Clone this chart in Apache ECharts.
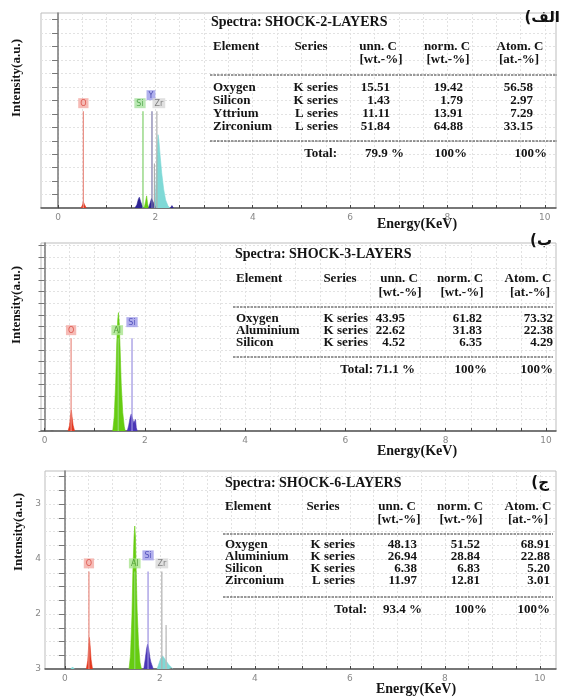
<!DOCTYPE html>
<html><head><meta charset="utf-8">
<script src="https://cdn.jsdelivr.net/npm/echarts@6/dist/echarts.min.js"></script>
<style>html,body{margin:0;padding:0;background:#fff}#c{width:561px;height:697px}</style>
</head><body><div id="c"></div>
<script>
// ---------- tick values / labels ----------
const xTickValues = [0,0.5,1,1.5,2,2.5,3,3.5,4,4.5,5,5.5,6,6.5,7,7.5,8,8.5,9,9.5,10];
const xLabelValues = [0,2,4,6,8,10];
const y1TickValues = [0,1,2,3,4,5,6,7,8,9,10,11,12,13,14];
const y2TickValues = [0,1,2,3,4,5,6,7,8,9,10,11,12,13,14,15,16];
const y3TickValues = [0,1,2,3,4,5,6,7,8,9,10,11,12,13,14];
const y3LabelValues = [0,4,8,12];
const y3LabelTexts = ['3','2','4','3'];

// ---------- panel 1 spectrum (keV, intensity) ----------
const p1_O  = [[0.47,0],[0.50,0.2],[0.52,0.45],[0.545,0.25],[0.58,0]];
const p1_navyA = [[1.58,0],[1.62,0.25],[1.65,0.65],[1.67,0.8],[1.70,0.45],[1.73,0.15],[1.76,0]];
const p1_Si = [[1.77,0],[1.80,0.5],[1.82,0.9],[1.84,0.3],[1.86,0]];
const p1_Y  = [[1.86,0],[1.89,0.35],[1.92,0.7],[1.95,0.6],[1.98,0.25],[2.0,0]];
const p1_Zr = [[1.98,0],[2.00,0.8],[2.02,2.5],[2.04,4.6],[2.055,5.45],[2.07,5.1],[2.10,3.8],[2.13,2.6],[2.17,1.4],[2.21,0.6],[2.26,0.15],[2.30,0]];
const p1_spike = [[1.975,0],[1.98,3.3],[1.985,0]];
const p1_small = [[2.31,0],[2.34,0.18],[2.37,0]];
const p1Markers = ['O','Si','Y','Zr'];
const p1MarkerE = [0.52,1.745,1.93,2.03];
const p1MarkerTop = [7.2,7.2,7.2,7.2];

// ---------- panel 2 spectrum ----------
const p2_tiny = [[0.12,0],[0.15,0.1],[0.18,0]];
const p2_O  = [[0.47,0],[0.50,0.5],[0.52,1.4],[0.535,1.8],[0.55,1.2],[0.57,0.5],[0.60,0]];
const p2_Al = [[1.36,0],[1.39,1.2],[1.42,4.2],[1.44,7.5],[1.46,9.6],[1.475,10.2],[1.49,9.3],[1.51,6.8],[1.53,4.0],[1.56,1.6],[1.59,0.4],[1.61,0]];
const p2_Si = [[1.65,0],[1.68,0.5],[1.71,1.2],[1.73,1.47],[1.76,1.3],[1.78,0.7],[1.80,0.6],[1.815,1.0],[1.83,0.3],[1.85,0]];
const p2Markers = ['O','Al','Si'];
const p2MarkerE = [0.53,1.47,1.745];
const p2MarkerTop = [8.0,8.0,8.0];

// ---------- panel 3 spectrum ----------
const p3_tiny = [[0.12,0],[0.16,0.15],[0.20,0]];
const p3_O  = [[0.45,0],[0.48,0.6],[0.50,1.7],[0.515,2.3],[0.53,1.7],[0.55,0.7],[0.58,0]];
const p3_Al = [[1.35,0],[1.38,1.0],[1.41,3.8],[1.43,7.0],[1.455,9.6],[1.47,10.4],[1.485,9.6],[1.50,7.2],[1.52,4.3],[1.55,1.8],[1.58,0.5],[1.61,0]];
const p3_Si = [[1.66,0],[1.69,0.7],[1.72,1.5],[1.74,1.8],[1.76,1.55],[1.79,0.8],[1.81,0.5],[1.83,0.3],[1.86,0]];
const p3_Zr = [[1.94,0],[1.98,0.4],[2.02,0.8],[2.06,0.95],[2.10,0.85],[2.14,0.55],[2.19,0.3],[2.25,0.1],[2.28,0]];
const p3_spike = [[2.125,0],[2.13,3.2],[2.135,0]];
const p3Markers = ['O','Al','Si','Zr'];
const p3MarkerE = [0.505,1.47,1.75,2.04];
const p3MarkerTop = [7.1,7.1,7.1,7.1];

// ---------- tables ----------
const tableHeaders = ['Element','Series','unn. C','norm. C','Atom. C'];
const tableUnits = ['[wt.-%]','[wt.-%]','[at.-%]'];
const totalLabel = 'Total:';

const t1Title = 'Spectra: SHOCK-2-LAYERS';
const t1Elements = ['Oxygen','Silicon','Yttrium','Zirconium'];
const t1Series = ['K series','K series','L series','L series'];
const t1Unn = ['15.51','1.43','11.11','51.84'];
const t1Norm = ['19.42','1.79','13.91','64.88'];
const t1Atom = ['56.58','2.97','7.29','33.15'];
const t1Total = ['79.9 %','100%','100%'];

const t2Title = 'Spectra: SHOCK-3-LAYERS';
const t2Elements = ['Oxygen','Aluminium','Silicon'];
const t2Series = ['K series','K series','K series'];
const t2Unn = ['43.95','22.62','4.52'];
const t2Norm = ['61.82','31.83','6.35'];
const t2Atom = ['73.32','22.38','4.29'];
const t2Total = ['71.1 %','100%','100%'];

const t3Title = 'Spectra: SHOCK-6-LAYERS';
const t3Elements = ['Oxygen','Aluminium','Silicon','Zirconium'];
const t3Series = ['K series','K series','K series','L series'];
const t3Unn = ['48.13','26.94','6.38','11.97'];
const t3Norm = ['51.52','28.84','6.83','12.81'];
const t3Atom = ['68.91','22.88','5.20','3.01'];
const t3Total = ['93.4 %','100%','100%'];

const panelTags = ['(الف','(ب','(ج'];
const xTitle = 'Energy(KeV)';
const yTitle = 'Intensity(a.u.)';

// ---------- styles ----------
const SERIF = '"Liberation Serif","Times New Roman",serif';
const C = {
  red:'#e4381f', green:'#66cc11', navy:'#2d2394', purple:'#4a36b6', cyan:'#7fd9d6', gray:'#a8a8a8'
};
const MK = {
  O:  {line:'#e98b80', box:'#f4aaa4', text:'#d8443a'},
  SiG:{line:'#7fcf6a', box:'#a9e2a0', text:'#3c9a3a'},
  Y:  {line:'#7a78a8', box:'#9c9ce8', text:'#3535a0'},
  Zr: {line:'#b0b0b0', box:'#d8d8d8', text:'#666'},
  Al: {line:'#8fd86a', box:'#aae58e', text:'#3a8a22'},
  SiP:{line:'#9a90e0', box:'#9d9ae8', text:'#3d3db0'}
};

function peak(data, color, i, lw){
  return {type:'line', xAxisIndex:i, yAxisIndex:i, data:data, symbol:'none', silent:true,
    lineStyle:{color:color, width:lw||0.6}, areaStyle:{color:color, opacity:1}, z:3, animation:false};
}
function markers(names, es, tops, styleKeys, offsets, i){
  const out = [];
  names.forEach((n,k)=>{
    const st = MK[styleKeys[k]];
    out.push({type:'line', xAxisIndex:i, yAxisIndex:i, data:[[es[k],0],[es[k],tops[k]]], symbol:'none', silent:true,
      lineStyle:{color:st.line, width:1.2}, z:4, animation:false});
  });
  out.push({type:'scatter', xAxisIndex:i, yAxisIndex:i, symbolSize:2, itemStyle:{color:'rgba(0,0,0,0)'}, silent:true, z:6, animation:false,
    data: names.map((n,k)=>{
      const st = MK[styleKeys[k]];
      return {value:[es[k], tops[k]], label:{show:true, position:'top', distance:2, formatter:n, offset:offsets[k],
        backgroundColor:st.box, color:st.text, fontSize:8, fontFamily:'DejaVu Sans', padding:[1,2,0,2], lineHeight:9}};
    })});
  return out;
}

const splitStyle = {show:true, lineStyle:{color:'#e2e2e2', width:1, type:[2,2]}};
function xAxis(i, min, max){
  return {type:'value', gridIndex:i, min:min, max:max,
    axisLine:{show:true, onZero:false, lineStyle:{color:'#555', width:1.5}},
    axisTick:{show:true, inside:true, length:3, customValues:xTickValues, lineStyle:{color:'#444'}},
    axisLabel:{show:true, customValues:xLabelValues, color:'#888', fontSize:9, fontFamily:'DejaVu Sans', margin:5},
    splitLine:splitStyle};
}
function yAxis(i, max, ticks, labels){
  return {type:'value', gridIndex:i, min:0, max:max,
    axisLine:{show:true, lineStyle:{color:'#777', width:1.5}},
    axisTick:{show:true, length:6, customValues:ticks, lineStyle:{color:'#777'}},
    axisLabel: labels ? {show:true, customValues:y3LabelValues, color:'#888', fontSize:9, fontFamily:'DejaVu Sans', margin:4,
        formatter:(v)=>{const k=y3LabelValues.indexOf(v); return k>=0?y3LabelTexts[k]:'';}} : {show:false},
    splitLine:splitStyle};
}

function txt(x,y,text,size,align,extra){
  return Object.assign({type:'text', x:x, y:y, silent:true, z:100,
    style:{text:text, fill:'#141414', font:'bold '+size+'px '+SERIF, align:align||'left', verticalAlign:'middle'}}, extra||{});
}
function dash(x1,x2,y){
  return {type:'line', silent:true, z:100, shape:{x1:x1,y1:y,x2:x2,y2:y}, style:{stroke:'#333', lineWidth:1, lineDash:[2.5,1]}};
}
function table(L, title, els, ser, unn, norm, atom, tot){
  const g = [];
  g.push(txt(L.titleX, L.titleY, title, 14, 'left'));
  g.push(txt(L.elemX, L.headY, tableHeaders[0], 13, 'left'));
  for (let k=1;k<5;k++) g.push(txt(L.headC[k-1], L.headY, tableHeaders[k], 13, 'center'));
  for (let k=0;k<3;k++) g.push(txt(L.unitC[k], L.unitY, tableUnits[k], 13, 'center'));
  g.push(dash(L.dashX[0], L.dashX[1], L.dash1Y));
  els.forEach((e,k)=>{
    const y = L.rowY[k];
    g.push(txt(L.elemX, y, e, 13, 'left'));
    g.push(txt(L.serR, y, ser[k], 13, 'right'));
    g.push(txt(L.unnR, y, unn[k], 13, 'right'));
    g.push(txt(L.normR, y, norm[k], 13, 'right'));
    g.push(txt(L.atomR, y, atom[k], 13, 'right'));
  });
  g.push(dash(L.dashX[0], L.dashX[1], L.dash2Y));
  g.push(txt(L.totR[0], L.totY, totalLabel, 13, 'right'));
  for (let k=0;k<3;k++) g.push(txt(L.totR[k+1], L.totY, tot[k], 13, 'right'));
  return g;
}

const L1 = {titleX:211, titleY:22, elemX:213, headY:47, unitY:60, headC:[311,378,447,520], unitC:[381,448,519],
  dashX:[210,557], dash1Y:75, dash2Y:141, rowY:[88,101,114,127], serR:338, unnR:390, normR:463, atomR:533,
  totY:154, totR:[337,404,467,547]};
const L2 = {titleX:235, titleY:254, elemX:236, headY:279, unitY:293, headC:[340,399,460,528], unitC:[400,462,530],
  dashX:[233,553], dash1Y:307, dash2Y:357, rowY:[319,331,343], serR:368, unnR:405, normR:482, atomR:553,
  totY:370, totR:[373,415,487,553]};
const L3 = {titleX:225, titleY:483, elemX:225, headY:507, unitY:520, headC:[323,397,460,528], unitC:[399,461,528],
  dashX:[223,553], dash1Y:534, dash2Y:597, rowY:[545,557,569,581], serR:355, unnR:417, normR:480, atomR:550,
  totY:610, totR:[367,422,487,550]};

const graphics = [].concat(
  table(L1, t1Title, t1Elements, t1Series, t1Unn, t1Norm, t1Atom, t1Total),
  table(L2, t2Title, t2Elements, t2Series, t2Unn, t2Norm, t2Atom, t2Total),
  table(L3, t3Title, t3Elements, t3Series, t3Unn, t3Norm, t3Atom, t3Total),
  [
    txt(417, 224, xTitle, 14, 'center'), txt(417, 451, xTitle, 14, 'center'), txt(416, 689, xTitle, 14, 'center'),
    txt(17, 78, yTitle, 13, 'center', {rotation:Math.PI/2}),
    txt(17, 305, yTitle, 13, 'center', {rotation:Math.PI/2}),
    txt(19, 532, yTitle, 13, 'center', {rotation:Math.PI/2}),
    {type:'text', x:560, y:18, silent:true, z:100, style:{text:panelTags[0], fill:'#111', font:'bold 15px "DejaVu Sans"', align:'right', verticalAlign:'middle'}},
    {type:'text', x:552, y:241, silent:true, z:100, style:{text:panelTags[1], fill:'#111', font:'bold 15px "DejaVu Sans"', align:'right', verticalAlign:'middle'}},
    {type:'text', x:549, y:483, silent:true, z:100, style:{text:panelTags[2], fill:'#111', font:'bold 15px "DejaVu Sans"', align:'right', verticalAlign:'middle'}}
  ]
);

const series = [].concat(
  [peak(p1_O,C.red,0), peak(p1_navyA,C.navy,0), peak(p1_Si,C.green,0), peak(p1_Y,C.navy,0), peak(p1_Zr,C.cyan,0),
   peak(p1_spike,C.gray,0,0.8), peak(p1_small,C.navy,0)],
  markers(p1Markers, p1MarkerE, p1MarkerTop, ['O','SiG','Y','Zr'], [[0,0],[-3,0],[-1,-8],[2,0]], 0),
  [peak(p2_tiny,'#555',1), peak(p2_O,C.red,1), peak(p2_Al,C.green,1), peak(p2_Si,C.purple,1)],
  markers(p2Markers, p2MarkerE, p2MarkerTop, ['O','Al','SiP'], [[0,0],[-1,0],[0,-8]], 1),
  [peak(p3_tiny,C.cyan,2), peak(p3_O,C.red,2), peak(p3_Al,C.green,2), peak(p3_Si,C.purple,2), peak(p3_Zr,C.cyan,2),
   peak(p3_spike,'#bbb',2,0.8)],
  markers(p3Markers, p3MarkerE, p3MarkerTop, ['O','Al','SiP','Zr'], [[0,0],[0,0],[0,-8],[0,0]], 2)
);

const chart = echarts.init(document.getElementById('c'), null, {renderer:'canvas'});
chart.setOption({
  animation:false,
  backgroundColor:'#fff',
  grid:[
    {left:41, top:13, width:515, height:195, show:true, borderColor:'#bdbdbd', borderWidth:1},
    {left:41, top:243, width:515, height:188, show:true, borderColor:'#bdbdbd', borderWidth:1},
    {left:45, top:471, width:511, height:198, show:true, borderColor:'#bdbdbd', borderWidth:1}
  ],
  xAxis:[xAxis(0,-0.35,10.23), xAxis(1,-0.07,10.2), xAxis(2,-0.42,10.34)],
  yAxis:[yAxis(0,14.5,y1TickValues,false), yAxis(1,16.2,y2TickValues,false), yAxis(2,14.4,y3TickValues,true)],
  series:series,
  graphic:graphics
});
</script></body></html>
